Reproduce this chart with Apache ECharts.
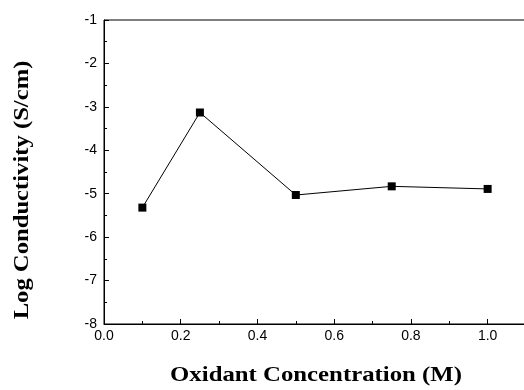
<!DOCTYPE html>
<html>
<head>
<meta charset="utf-8">
<script src="https://cdn.jsdelivr.net/npm/echarts@6/dist/echarts.min.js"></script>
<style>
  html, body { margin: 0; padding: 0; background: #fff; }
  #chart { width: 524px; height: 390px; }
</style>
</head>
<body>
<div id="chart"></div>
<script>
// Oxidant concentration (M) and log conductivity (S/cm)
const concentration = [0.1, 0.25, 0.5, 0.75, 1.0];
const logConductivity = [-5.32, -3.13, -5.03, -4.83, -4.89];
const xTitle = 'Oxidant Concentration (M)';
const yTitle = 'Log Conductivity (S/cm)';

const chart = echarts.init(document.getElementById('chart'), null, { renderer: 'canvas' });

const axisFont = { color: '#000', fontSize: 14, fontFamily: 'Liberation Sans, Arial, sans-serif' };
const titleFont = '"Liberation Serif", "Times New Roman", serif';

chart.setOption({
  animation: false,
  backgroundColor: '#fff',
  grid: {
    left: 104, top: 20, right: -2, bottom: 66,
    outerBoundsMode: 'none', containLabel: false,
    show: true, borderColor: '#000', borderWidth: 1
  },
  xAxis: {
    type: 'value', min: 0, max: 1.1, interval: 0.2,
    axisLine: { lineStyle: { color: '#000', width: 1 } },
    axisTick: { inside: true, length: 5, lineStyle: { color: '#000' } },
    minorTick: { show: true, splitNumber: 2, length: 3, lineStyle: { color: '#000' } },
    splitLine: { show: false },
    axisLabel: Object.assign({ margin: 5, formatter: v => (v > 1.05 ? '' : v.toFixed(1)) }, axisFont)
  },
  yAxis: {
    type: 'value', min: -8, max: -1, interval: 1,
    axisLine: { lineStyle: { color: '#000', width: 1 } },
    axisTick: { inside: true, length: 5, lineStyle: { color: '#000' } },
    minorTick: { show: true, splitNumber: 2, length: 3, lineStyle: { color: '#000' } },
    splitLine: { show: false },
    axisLabel: Object.assign({ margin: 7 }, axisFont)
  },
  series: [{
    type: 'line',
    data: concentration.map((x, i) => [x, logConductivity[i]]),
    symbol: 'rect', symbolSize: 8,
    itemStyle: { color: '#000' },
    lineStyle: { color: '#000', width: 1 }
  }],
  graphic: [
    {
      type: 'text', x: 316, y: 376, scaleX: 1.18,
      style: { text: xTitle, fill: '#000', font: 'bold 21px ' + titleFont, textAlign: 'center', textVerticalAlign: 'middle' }
    },
    {
      type: 'text', x: 22, y: 190, rotation: Math.PI / 2, scaleX: 1.12,
      style: { text: yTitle, fill: '#000', font: 'bold 22px ' + titleFont, textAlign: 'center', textVerticalAlign: 'middle' }
    }
  ]
});
</script>
</body>
</html>
